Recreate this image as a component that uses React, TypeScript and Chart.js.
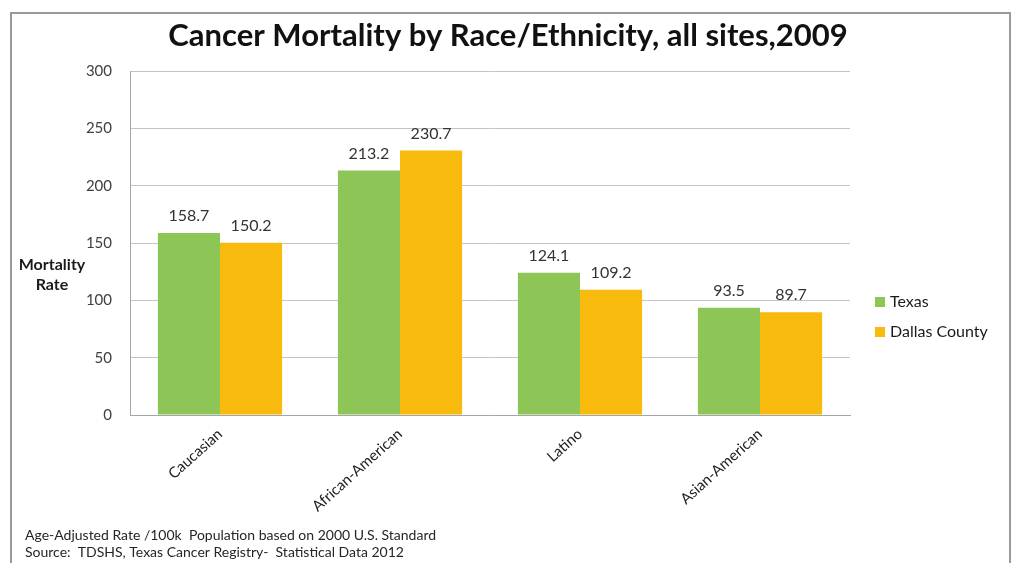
import React, { useEffect, useRef } from 'react';
import { Chart, registerables } from 'chart.js';

Chart.register(...registerables);

const categories = ['Caucasian', 'African-American', 'Latino', 'Asian-American'];
const seriesNames = ['Texas', 'Dallas County'];
const texasValues = [158.7, 213.2, 124.1, 93.5];
const dallasValues = [150.2, 230.7, 109.2, 89.7];
const yMin = 0;
const yMax = 300;
const yStep = 50;
const titleText = 'Cancer Mortality by Race/Ethnicity, all sites,2009';
const yTitleLines = ['Mortality', 'Rate'];
const footnotes = [
  'Age-Adjusted Rate /100k  Population based on 2000 U.S. Standard',
  'Source:  TDSHS, Texas Cancer Registry-  Statistical Data 2012',
];

const W = 1016;
const H = 563;
const FONT = 'Lato, "Open Sans", sans-serif';
const GREEN = '#8DC657';
const ORANGE = '#F8BA0C';

const decor = {
  id: 'decor',
  beforeDraw(chart: any) {
    const ctx = chart.ctx;
    ctx.save();
    ctx.fillStyle = '#ffffff';
    ctx.fillRect(0, 0, W, H);
    ctx.strokeStyle = '#9a9a9a';
    ctx.lineWidth = 2;
    ctx.beginPath();
    ctx.moveTo(11, H);
    ctx.lineTo(11, 13);
    ctx.lineTo(1010, 13);
    ctx.lineTo(1010, H);
    ctx.stroke();
    ctx.restore();
  },
  afterDatasetsDraw(chart: any) {
    const ctx = chart.ctx;
    ctx.save();
    ctx.font = `16px ${FONT}`;
    ctx.fillStyle = '#333333';
    ctx.textAlign = 'center';
    ctx.textBaseline = 'middle';
    chart.data.datasets.forEach((ds: any, i: number) => {
      const meta = chart.getDatasetMeta(i);
      meta.data.forEach((bar: any, j: number) => {
        ctx.fillText(ds.data[j].toFixed(1), bar.x, bar.y - 17);
      });
    });
    ctx.restore();
  },
  afterDraw(chart: any) {
    const ctx = chart.ctx;
    ctx.save();
    // title
    ctx.font = `bold 31px ${FONT}`;
    ctx.fillStyle = '#111111';
    ctx.textAlign = 'center';
    ctx.textBaseline = 'middle';
    ctx.fillText(titleText, 508, 36);
    // y title
    ctx.font = `bold 16px ${FONT}`;
    ctx.fillStyle = '#1a1a1a';
    yTitleLines.forEach((t, i) => ctx.fillText(t, 52, 265 + i * 20));
    // legend
    ctx.textAlign = 'left';
    ctx.font = `16px ${FONT}`;
    const colors = [GREEN, ORANGE];
    seriesNames.forEach((n, i) => {
      const y = 302 + i * 30;
      ctx.fillStyle = colors[i];
      ctx.fillRect(875, y - 5, 10, 10);
      ctx.fillStyle = '#1a1a1a';
      ctx.fillText(n, 890, y);
    });
    // footnotes
    ctx.font = `14px ${FONT}`;
    ctx.fillStyle = '#262626';
    footnotes.forEach((t, i) => ctx.fillText(t, 25, 535 + i * 17));
    ctx.restore();
  },
};

export default function App() {
  const ref = useRef<HTMLCanvasElement>(null);
  useEffect(() => {
    if (!ref.current) return;
    const chart = new Chart(ref.current, {
      type: 'bar',
      data: {
        labels: categories,
        datasets: [
          { label: seriesNames[0], data: texasValues, backgroundColor: GREEN, categoryPercentage: 0.69, barPercentage: 1.0 },
          { label: seriesNames[1], data: dallasValues, backgroundColor: ORANGE, categoryPercentage: 0.69, barPercentage: 1.0 },
        ],
      },
      options: {
        animation: false,
        responsive: false,
        devicePixelRatio: 1,
        layout: { padding: { top: 71, right: 166, left: 0, bottom: 0 } },
        plugins: { legend: { display: false }, title: { display: false }, tooltip: { enabled: false } },
        scales: {
          x: {
            grid: { display: false, drawTicks: false },
            border: { display: true, color: '#a6a6a6', width: 1 },
            ticks: {
              font: { family: FONT, size: 15 },
              color: '#222222',
              minRotation: 42,
              maxRotation: 42,
              padding: 10,
            },
            afterFit: (s: any) => { s.height = 148; },
          },
          y: {
            min: yMin,
            max: yMax,
            grid: { color: '#c4c4c4', lineWidth: 1, drawTicks: false },
            border: { display: true, color: '#a6a6a6', width: 1 },
            ticks: {
              stepSize: yStep,
              font: { family: FONT, size: 15 },
              color: '#404040',
              padding: 18,
            },
            afterFit: (s: any) => { s.width = 130; },
          },
        },
      },
      plugins: [decor],
    });
    return () => chart.destroy();
  }, []);
  return (
    <div style={{ position: 'absolute', left: 0, top: 0, width: W, height: H, background: '#fff' }}>
      <canvas ref={ref} width={W} height={H} style={{ width: W, height: H, display: 'block' }} />
    </div>
  );
}
